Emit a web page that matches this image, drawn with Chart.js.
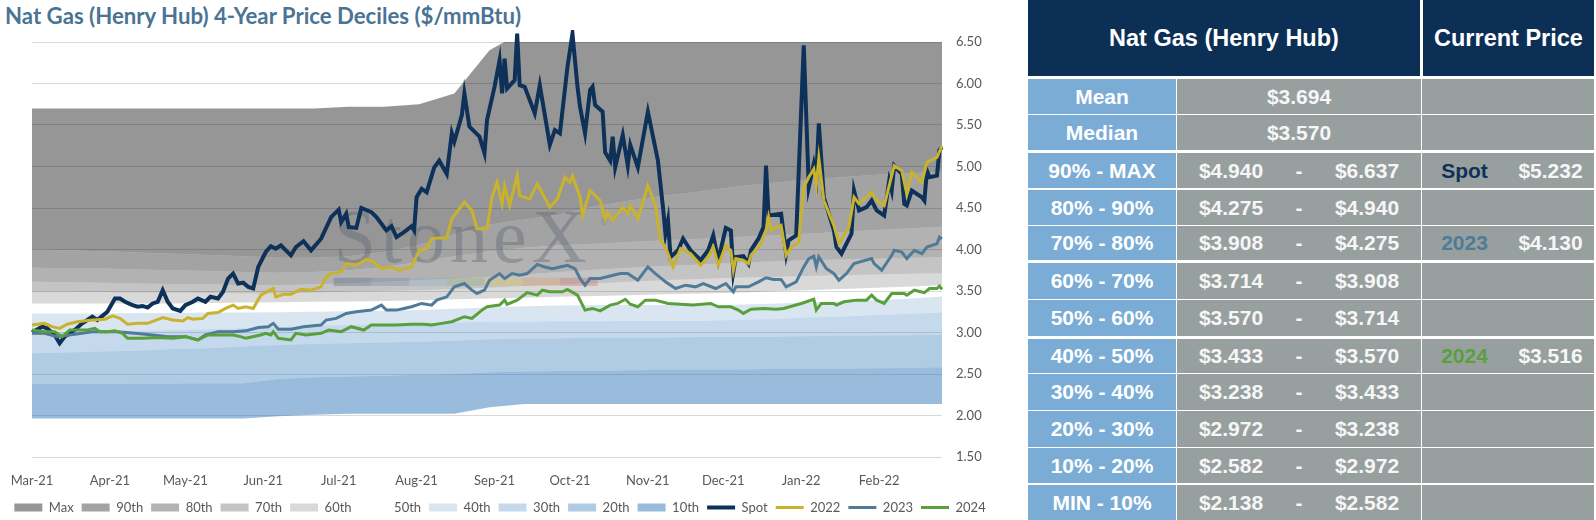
<!DOCTYPE html>
<html lang="en">
<head>
<meta charset="utf-8">
<title>Nat Gas (Henry Hub) 4-Year Price Deciles</title>
<script src="https://cdn.jsdelivr.net/npm/chart.js@4.4.1/dist/chart.umd.min.js"></script>
<style>
    html, body { margin: 0; padding: 0; background: #ffffff; overflow: hidden; }
    body { position: relative; width: 1596px; height: 520px; }
    #chart-title { position: absolute; left: 5px; top: 5px; font: 700 22.2px/22px Lato, sans-serif; color: #4a7494; white-space: nowrap; }
    #chart-box { position: absolute; left: 0; top: 0; width: 1000px; height: 528px; }
    #deciles { position: absolute; left: 1028px; top: 0; width: 566px; font: 700 21px "Liberation Sans", Arial, sans-serif; color: #f6f6f6; }
    #deciles .row { display: flex; }
    #deciles .row > div { display: flex; align-items: center; justify-content: center; }
    #deciles .head { height: 76px; background: #0c2f55; color: #ffffff; font-size: 23.5px; }
    #deciles .label { width: 148px; background: #7aacd6; color: #ffffff; }
    #deciles .value { width: 244px; margin-left: 1px; background: #98a09f; }
    #deciles .current { width: 172px; margin-left: 1px; background: #98a09f; }
    #deciles .split { display: grid !important; grid-template-columns: 108px 28px 108px; }
    #deciles .pair { display: grid !important; grid-template-columns: 85px 87px; }
    #deciles .split span, #deciles .pair span { text-align: center; }
</style>
</head>
<body>
<div id="chart-title">Nat Gas (Henry Hub) 4-Year Price Deciles ($/mmBtu)</div>
<div id="chart-box"><canvas id="deciles-chart"></canvas></div>
<div id="deciles"></div>

<script>
// Axis: days counted from 1 Mar 2021
const monthDays = [0, 31, 61, 92, 122, 153, 184, 214, 245, 275, 306, 337];
const monthLabels = ['Mar-21', 'Apr-21', 'May-21', 'Jun-21', 'Jul-21', 'Aug-21', 'Sep-21', 'Oct-21', 'Nov-21', 'Dec-21', 'Jan-22', 'Feb-22'];

// Rolling 4-year decile boundaries ($/mmBtu), sampled every two weeks
const bandDays = [0, 14, 28, 42, 56, 70, 84, 98, 112, 126, 140, 154, 168, 182, 196, 210, 224, 238, 252, 266, 280, 294, 308, 322, 336, 350, 362];
const minBand = [1.965, 1.965, 1.965, 1.965, 1.965, 1.965, 1.965, 1.99, 2.01, 2.02, 2.02, 2.02, 2.02, 2.10, 2.138, 2.138, 2.138, 2.138, 2.138, 2.138, 2.138, 2.138, 2.138, 2.138, 2.138, 2.138, 2.138];
const p10 = [2.38, 2.38, 2.38, 2.385, 2.385, 2.39, 2.39, 2.44, 2.46, 2.47, 2.48, 2.49, 2.50, 2.52, 2.53, 2.535, 2.54, 2.545, 2.55, 2.55, 2.555, 2.56, 2.56, 2.565, 2.57, 2.576, 2.582];
const p20 = [2.75, 2.76, 2.77, 2.78, 2.80, 2.81, 2.83, 2.85, 2.86, 2.87, 2.88, 2.89, 2.90, 2.92, 2.925, 2.93, 2.935, 2.94, 2.94, 2.945, 2.95, 2.95, 2.955, 2.96, 2.965, 2.968, 2.972];
const p30 = [3.00, 3.005, 3.01, 3.02, 3.03, 3.04, 3.05, 3.065, 3.08, 3.09, 3.10, 3.11, 3.12, 3.13, 3.13, 3.135, 3.135, 3.14, 3.14, 3.14, 3.15, 3.16, 3.18, 3.19, 3.21, 3.225, 3.238];
const p40 = [3.23, 3.23, 3.23, 3.235, 3.235, 3.24, 3.24, 3.245, 3.25, 3.255, 3.26, 3.27, 3.285, 3.30, 3.315, 3.325, 3.33, 3.33, 3.33, 3.33, 3.335, 3.345, 3.36, 3.375, 3.39, 3.41, 3.433];
const p50 = [3.35, 3.35, 3.35, 3.35, 3.35, 3.355, 3.36, 3.365, 3.37, 3.375, 3.38, 3.39, 3.40, 3.41, 3.42, 3.43, 3.44, 3.45, 3.46, 3.47, 3.48, 3.495, 3.51, 3.525, 3.54, 3.555, 3.57];
const p60 = [3.49, 3.49, 3.485, 3.48, 3.48, 3.475, 3.47, 3.47, 3.48, 3.49, 3.50, 3.51, 3.525, 3.54, 3.56, 3.575, 3.59, 3.61, 3.63, 3.645, 3.66, 3.67, 3.68, 3.69, 3.70, 3.707, 3.714];
const p70 = [3.61, 3.605, 3.60, 3.59, 3.585, 3.58, 3.57, 3.57, 3.58, 3.59, 3.61, 3.63, 3.65, 3.67, 3.70, 3.73, 3.755, 3.78, 3.80, 3.82, 3.84, 3.855, 3.87, 3.88, 3.89, 3.90, 3.908];
const p80 = [3.78, 3.775, 3.77, 3.76, 3.75, 3.74, 3.73, 3.72, 3.73, 3.75, 3.79, 3.85, 3.92, 3.98, 4.02, 4.05, 4.07, 4.09, 4.11, 4.13, 4.15, 4.17, 4.19, 4.21, 4.235, 4.255, 4.275];
const p90 = [4.00, 3.99, 3.98, 3.965, 3.95, 3.935, 3.92, 3.90, 3.90, 3.92, 3.97, 4.05, 4.18, 4.30, 4.36, 4.42, 4.52, 4.59, 4.65, 4.70, 4.76, 4.80, 4.84, 4.87, 4.90, 4.92, 4.94];
const pMax = [5.70, 5.70, 5.70, 5.70, 5.70, 5.70, 5.70, 5.70, 5.70, 5.72, 5.72, 5.75, 5.88, 6.40, 6.64, 6.64, 6.64, 6.64, 6.64, 6.64, 6.64, 6.64, 6.64, 6.64, 6.64, 6.64, 6.64];

// Price lines as [day, $/mmBtu]
const spot = [
    [0, 3.00], [4, 3.07], [6, 3.05], [9, 2.97], [11, 2.87], [13, 2.95], [17, 3.03], [20, 3.11], [24, 3.19], [26, 3.15],
    [28, 3.20], [30, 3.25], [33, 3.41], [35, 3.41], [37, 3.37], [40, 3.33], [42, 3.31], [44, 3.32], [46, 3.30], [48, 3.35],
    [50, 3.37], [52, 3.51], [54, 3.37], [56, 3.29], [59, 3.26], [61, 3.33], [64, 3.37], [66, 3.41], [69, 3.37], [71, 3.43],
    [74, 3.41], [76, 3.49], [78, 3.65], [80, 3.71], [82, 3.59], [84, 3.60], [86, 3.55], [88, 3.53], [90, 3.79], [93, 3.97],
    [95, 4.04], [97, 4.01], [99, 4.05], [103, 3.93], [105, 4.03], [108, 4.10], [111, 3.99], [115, 4.13], [119, 4.39], [122, 4.48],
    [123, 4.33], [125, 4.43], [126, 4.27], [129, 4.26], [131, 4.50], [135, 4.45], [137, 4.39], [139, 4.31], [141, 4.23], [143, 4.28],
    [145, 4.15], [148, 4.21], [151, 4.28], [152, 4.23], [153, 4.63], [155, 4.73], [157, 4.69], [160, 4.99], [162, 5.07], [165, 4.91],
    [167, 5.40], [168, 5.30], [171, 5.62], [172, 5.88], [174, 5.48], [178, 5.36], [180, 5.16], [181, 5.56], [184, 5.96], [186, 6.28],
    [187, 5.88], [188, 6.30], [189, 5.94], [192, 6.04], [193, 6.60], [194, 5.98], [196, 5.96], [200, 5.64], [202, 5.98], [206, 5.26],
    [208, 5.44], [210, 5.40], [213, 6.20], [215, 6.60], [217, 5.96], [218, 5.72], [220, 5.40], [222, 5.92], [223, 5.96], [224, 5.74],
    [227, 5.66], [228, 5.17], [230, 5.07], [231, 5.36], [232, 4.99], [235, 5.38], [237, 5.01], [238, 5.26], [241, 4.99], [245, 5.66],
    [249, 5.07], [251, 4.51], [252, 4.19], [253, 4.35], [254, 3.91], [257, 3.99], [259, 4.13], [262, 3.99], [266, 3.87], [269, 3.99],
    [271, 4.17], [273, 3.87], [276, 4.26], [278, 4.23], [279, 3.73], [280, 3.91], [283, 3.92], [285, 3.83], [286, 3.99], [289, 4.13],
    [291, 4.27], [292, 5.01], [293, 4.41], [298, 4.43], [300, 3.95], [301, 4.11], [304, 4.17], [307, 6.46], [309, 4.75], [311, 5.03],
    [312, 4.87], [313, 5.52], [315, 4.63], [317, 4.43], [319, 4.23], [320, 4.03], [322, 3.95], [326, 4.19], [327, 4.71], [329, 4.47],
    [332, 4.51], [334, 4.59], [336, 4.47], [339, 4.41], [341, 4.83], [342, 4.71], [343, 5.01], [346, 4.91], [347, 4.55], [348, 4.53],
    [350, 4.71], [354, 4.63], [355, 4.59], [356, 4.95], [357, 4.87], [360, 4.89], [361, 5.20], [362, 5.23]
];
const cal2022 = [
    [0, 3.09], [5, 3.11], [8, 3.07], [11, 3.05], [14, 3.10], [18, 3.13], [24, 3.15], [29, 3.16], [32, 3.20], [35, 3.17],
    [38, 3.10], [42, 3.11], [46, 3.11], [52, 3.18], [56, 3.15], [60, 3.14], [62, 3.18], [64, 3.16], [68, 3.17], [70, 3.23],
    [74, 3.24], [77, 3.29], [80, 3.33], [82, 3.29], [85, 3.31], [88, 3.29], [91, 3.45], [96, 3.53], [97, 3.43], [100, 3.46],
    [103, 3.46], [107, 3.52], [111, 3.51], [115, 3.55], [117, 3.67], [119, 3.71], [123, 3.73], [125, 3.83], [129, 3.81], [133, 3.88],
    [136, 3.85], [139, 3.77], [143, 3.79], [146, 3.75], [151, 3.79], [154, 3.99], [157, 4.01], [159, 4.13], [162, 4.14], [165, 4.14],
    [167, 4.37], [172, 4.57], [175, 4.47], [177, 4.25], [181, 4.25], [183, 4.63], [185, 4.81], [187, 4.55], [188, 4.77], [190, 4.53],
    [193, 4.89], [194, 4.65], [198, 4.61], [201, 4.79], [206, 4.51], [209, 4.61], [212, 4.87], [214, 4.81], [215, 4.89], [218, 4.63],
    [219, 4.41], [222, 4.71], [224, 4.65], [226, 4.59], [228, 4.37], [229, 4.45], [231, 4.35], [235, 4.51], [237, 4.43], [238, 4.53],
    [241, 4.37], [245, 4.77], [248, 4.53], [250, 4.11], [252, 4.03], [255, 3.79], [258, 4.01], [262, 3.95], [266, 3.81], [269, 3.91],
    [271, 4.03], [273, 3.81], [276, 4.05], [278, 3.99], [279, 3.75], [280, 3.89], [283, 3.87], [285, 3.83], [286, 3.93], [290, 4.07],
    [292, 4.23], [293, 4.39], [294, 4.23], [298, 4.29], [300, 3.93], [302, 4.03], [305, 4.09], [307, 4.75], [309, 4.87], [311, 4.97],
    [312, 4.77], [313, 5.10], [315, 4.59], [319, 4.29], [321, 4.07], [325, 4.27], [327, 4.63], [329, 4.55], [334, 4.69], [336, 4.59],
    [339, 4.53], [342, 4.89], [343, 5.01], [346, 4.95], [348, 4.67], [350, 4.93], [354, 4.81], [356, 5.05], [360, 5.11], [362, 5.25]
];
const cal2023 = [
    [0, 2.99], [5, 2.99], [10, 2.95], [17, 2.98], [24, 3.01], [28, 3.01], [34, 3.01], [41, 2.99], [48, 2.97], [54, 2.95],
    [61, 2.95], [66, 2.91], [69, 2.97], [74, 3.01], [80, 3.01], [85, 3.02], [90, 3.06], [94, 3.07], [96, 3.11], [98, 3.04],
    [103, 3.04], [108, 3.07], [115, 3.09], [117, 3.15], [121, 3.17], [125, 3.23], [129, 3.25], [135, 3.27], [139, 3.33], [141, 3.27],
    [145, 3.27], [148, 3.29], [151, 3.31], [155, 3.35], [159, 3.33], [161, 3.39], [165, 3.43], [168, 3.55], [172, 3.59], [175, 3.51],
    [177, 3.47], [180, 3.51], [182, 3.63], [186, 3.71], [188, 3.65], [191, 3.71], [194, 3.69], [197, 3.71], [201, 3.82], [204, 3.79],
    [207, 3.77], [210, 3.79], [213, 3.81], [216, 3.77], [218, 3.65], [220, 3.57], [222, 3.65], [226, 3.65], [230, 3.68], [234, 3.71],
    [237, 3.71], [241, 3.63], [245, 3.79], [248, 3.71], [252, 3.61], [256, 3.53], [260, 3.57], [264, 3.55], [267, 3.59], [272, 3.53],
    [276, 3.59], [279, 3.49], [280, 3.55], [285, 3.55], [289, 3.61], [292, 3.66], [295, 3.64], [298, 3.64], [300, 3.55], [304, 3.61],
    [307, 3.79], [309, 3.89], [311, 3.92], [312, 3.79], [313, 3.91], [316, 3.77], [319, 3.71], [321, 3.63], [324, 3.71], [327, 3.83],
    [334, 3.89], [335, 3.83], [338, 3.75], [342, 3.93], [343, 3.99], [346, 3.97], [348, 3.89], [351, 3.99], [354, 3.95], [356, 4.03],
    [360, 4.07], [361, 4.15], [362, 4.13]
];
const cal2024 = [
    [0, 3.03], [5, 3.01], [9, 3.01], [12, 2.95], [15, 3.03], [18, 3.03], [22, 3.03], [25, 3.05], [27, 3.01], [30, 3.01],
    [33, 3.02], [36, 2.99], [38, 2.93], [44, 2.93], [50, 2.94], [56, 2.93], [61, 2.95], [66, 2.91], [70, 2.97], [74, 2.97],
    [80, 2.97], [83, 2.95], [85, 2.93], [91, 2.97], [93, 2.99], [95, 2.97], [96, 3.01], [98, 2.93], [103, 2.91], [105, 2.99],
    [109, 2.97], [115, 2.99], [118, 3.03], [123, 3.01], [127, 3.07], [132, 3.03], [135, 3.09], [140, 3.09], [145, 3.09], [151, 3.10],
    [156, 3.10], [159, 3.09], [163, 3.11], [167, 3.13], [172, 3.19], [175, 3.17], [179, 3.27], [181, 3.31], [186, 3.33], [188, 3.39],
    [189, 3.34], [193, 3.39], [197, 3.48], [201, 3.45], [203, 3.51], [206, 3.49], [211, 3.49], [213, 3.52], [217, 3.45], [220, 3.27],
    [223, 3.29], [226, 3.26], [230, 3.33], [233, 3.35], [236, 3.40], [238, 3.34], [241, 3.31], [244, 3.39], [248, 3.39], [253, 3.35],
    [258, 3.34], [263, 3.33], [270, 3.35], [273, 3.31], [278, 3.31], [281, 3.27], [283, 3.23], [286, 3.28], [291, 3.29], [296, 3.28],
    [299, 3.29], [306, 3.35], [311, 3.40], [312, 3.27], [314, 3.35], [319, 3.35], [320, 3.33], [323, 3.37], [328, 3.39], [332, 3.39],
    [334, 3.45], [336, 3.39], [339, 3.35], [342, 3.47], [347, 3.47], [348, 3.45], [351, 3.51], [355, 3.48], [357, 3.53], [360, 3.53],
    [361, 3.56], [362, 3.52]
];

// Decile table
const tableLabels = ['Mean', 'Median', '90% - MAX', '80% - 90%', '70% - 80%', '60% - 70%', '50% - 60%', '40% - 50%', '30% - 40%', '20% - 30%', '10% - 20%', 'MIN - 10%'];
const rangeLow = [3.694, 3.570, 4.940, 4.275, 3.908, 3.714, 3.570, 3.433, 3.238, 2.972, 2.582, 2.138];
const rangeHigh = [null, null, 6.637, 4.940, 4.275, 3.908, 3.714, 3.570, 3.433, 3.238, 2.972, 2.582];
const currentName = [null, null, 'Spot', null, '2023', null, null, '2024', null, null, null, null];
const currentPrice = [null, null, 5.232, null, 4.130, null, null, 3.516, null, null, null, null];

// Layout of the table rows (px)
const rowGap = [3, 1, 3, 2, 1, 3, 1, 3, 1, 1, 1, 2];
const rowHeight = [35, 35, 35, 35, 34, 36, 36, 34, 36, 36, 35, 35];

// Colours
const BLUE = '28, 107, 178';
const lineColors = { 'Spot': '#0d3158', '2022': '#c9b22c', '2023': '#4f7b99', '2024': '#59a03c' };

const toPoints = pairs => pairs.map(([d, v]) => ({ x: d, y: v }));
const bandPoints = vals => vals.map((v, i) => ({ x: bandDays[i], y: v }));
const money = v => '$' + v.toFixed(3);

function bandDataset(label, values, color) {
    return {
        label: label,
        data: bandPoints(values),
        backgroundColor: color,
        borderWidth: 0,
        pointRadius: 0,
        fill: label === 'Min' ? false : '-1',
        order: 10
    };
}

function lineDataset(label, pairs, width, order) {
    return {
        label: label,
        data: toPoints(pairs),
        borderColor: lineColors[label],
        backgroundColor: lineColors[label],
        borderWidth: width,
        pointRadius: 0,
        fill: false,
        tension: 0,
        order: order,
        clip: 12
    };
}

const datasets = [
    bandDataset('Min', minBand, 'rgba(0,0,0,0)'),
    bandDataset('10th', p10, `rgba(${BLUE}, 0.45)`),
    bandDataset('20th', p20, `rgba(${BLUE}, 0.35)`),
    bandDataset('30th', p30, `rgba(${BLUE}, 0.26)`),
    bandDataset('40th', p40, `rgba(${BLUE}, 0.17)`),
    bandDataset('50th', p50, 'rgba(255,255,255,0)'),
    bandDataset('60th', p60, 'rgba(0,0,0,0.15)'),
    bandDataset('70th', p70, 'rgba(0,0,0,0.23)'),
    bandDataset('80th', p80, 'rgba(0,0,0,0.30)'),
    bandDataset('90th', p90, 'rgba(0,0,0,0.36)'),
    bandDataset('Max', pMax, 'rgba(0,0,0,0.41)'),
    lineDataset('Spot', spot, 4, 4),
    lineDataset('2022', cal2022, 3, 3),
    lineDataset('2023', cal2023, 3, 2),
    lineDataset('2024', cal2024, 3, 1)
];
const legendOrder = [10, 9, 8, 7, 6, 5, 4, 3, 2, 1, 11, 12, 13, 14];

// Faint StoneX mark, drawn after the bands and before the price lines
const stripColors = ['rgba(70,90,120,0.3)', 'rgba(90,115,145,0.28)', 'rgba(130,160,185,0.28)', 'rgba(120,160,90,0.28)', 'rgba(220,190,70,0.3)', 'rgba(215,150,80,0.3)', 'rgba(200,90,90,0.3)'];
const watermark = {
    id: 'watermark',
    afterDatasetDraw(chart, args) {
        if (args.index !== 0) return;
        const { ctx, scales: { x, y } } = chart;
        const left = x.getPixelForValue(120);
        const right = x.getPixelForValue(225);
        ctx.save();
        ctx.font = '76px "Liberation Serif", serif';
        ctx.letterSpacing = '5px';
        ctx.fillStyle = 'rgba(95,105,115,0.42)';
        ctx.textBaseline = 'alphabetic';
        ctx.fillText('StoneX', left, y.getPixelForValue(3.85));
        ctx.letterSpacing = '0px';
        ctx.font = '11px "Liberation Serif", serif';
        ctx.fillText('®', x.getPixelForValue(226), y.getPixelForValue(4.30));
        const top = y.getPixelForValue(3.66);
        const bottom = y.getPixelForValue(3.56);
        const w = (right - left) / stripColors.length;
        stripColors.forEach((c, i) => {
            ctx.fillStyle = c;
            ctx.fillRect(left + i * w, top, w, bottom - top);
        });
        ctx.restore();
    }
};

Chart.defaults.font.family = 'Lato, sans-serif';
Chart.defaults.font.size = 13;
Chart.defaults.color = '#595959';

const chart = new Chart(document.getElementById('deciles-chart'), {
    type: 'line',
    data: { datasets: datasets },
    options: {
        responsive: true,
        maintainAspectRatio: false,
        animation: false,
        layout: { padding: { top: 42, left: 0, right: 0, bottom: 4 } },
        scales: {
            x: {
                type: 'linear',
                min: 0,
                max: 362,
                grid: { display: false },
                border: { display: false },
                ticks: {
                    autoSkip: false,
                    maxRotation: 0,
                    padding: 8,
                    callback: value => monthLabels[monthDays.indexOf(value)] ?? ''
                },
                afterBuildTicks: scale => { scale.ticks = monthDays.map(value => ({ value })); },
                afterFit: scale => { scale.height = 36; }
            },
            y: {
                position: 'right',
                min: 1.5,
                max: 6.5,
                grid: { color: 'rgba(0,0,0,0.15)', drawTicks: false },
                border: { display: false },
                ticks: { stepSize: 0.5, padding: 14, callback: value => value.toFixed(2) },
                afterFit: scale => { scale.width = 58; }
            },
            yPad: {
                position: 'left',
                grid: { display: false },
                border: { display: false },
                ticks: { display: false },
                afterFit: scale => { scale.width = 32; }
            }
        },
        plugins: {
            tooltip: { enabled: false },
            legend: {
                position: 'bottom',
                labels: {
                    usePointStyle: true,
                    pointStyleWidth: 28,
                    boxHeight: 8,
                    padding: 8,
                    color: '#595959',
                    generateLabels: c => legendOrder.map(i => {
                        const ds = c.data.datasets[i];
                        const isLine = ds.borderWidth > 0;
                        return {
                            text: ds.label,
                            datasetIndex: i,
                            fillStyle: isLine ? ds.borderColor : ds.backgroundColor,
                            strokeStyle: isLine ? ds.borderColor : 'rgba(0,0,0,0)',
                            lineWidth: isLine ? ds.borderWidth : 0,
                            pointStyle: isLine ? 'line' : 'rect',
                            fontColor: '#595959',
                            hidden: false
                        };
                    })
                }
            }
        }
    },
    plugins: [watermark]
});

// Table
function buildTable() {
    const table = document.getElementById('deciles');
    let html = '<div class="row"><div class="head" style="width:392px">Nat Gas (Henry Hub)</div>' +
        '<div class="head" style="width:171px;margin-left:3px">Current Price</div></div>';
    tableLabels.forEach((label, i) => {
        const style = `style="margin-top:${rowGap[i]}px;height:${rowHeight[i]}px"`;
        const value = rangeHigh[i] === null
            ? `<div class="value">${money(rangeLow[i])}</div>`
            : `<div class="value split"><span>${money(rangeLow[i])}</span><span>-</span><span>${money(rangeHigh[i])}</span></div>`;
        const current = currentName[i] === null
            ? '<div class="current"></div>'
            : `<div class="current pair"><span style="color:${lineColors[currentName[i]]}">${currentName[i]}</span><span>${money(currentPrice[i])}</span></div>`;
        html += `<div class="row" ${style}><div class="label">${label}</div>${value}${current}</div>`;
    });
    table.innerHTML = html;
}
buildTable();
</script>
</body>
</html>
